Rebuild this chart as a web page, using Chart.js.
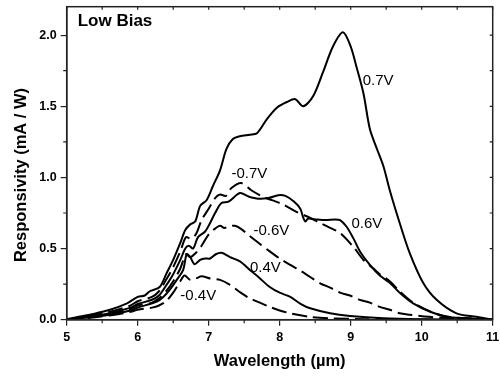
<!DOCTYPE html>
<html>
<head>
<meta charset="utf-8">
<script src="https://cdn.jsdelivr.net/npm/chart.js@4/dist/chart.umd.min.js"></script>
<style>html,body{margin:0;padding:0;background:#fff;}canvas{display:block;}</style>
</head>
<body>
<canvas id="c" width="500" height="377"></canvas>
<script>
// ---- data (wavelength in µm, responsivity in mA/W) ----
const wlP07 = [5.0,5.14,5.37,5.61,5.85,6.0,6.1,6.17,6.31,6.41,6.5,6.6,6.67,6.74,6.81,6.88,6.97,7.06,7.16,7.25,7.34,7.44,7.58,7.68,7.82,7.96,8.10,8.22,8.33,8.47,8.61,8.75,8.89,9.0,9.08,9.18,9.27,9.37,9.46,9.55,9.69,9.83,10.02,10.21,10.49,10.77,11.0];
const rP07  = [0.003,0.017,0.04,0.07,0.115,0.16,0.17,0.2,0.23,0.33,0.42,0.54,0.63,0.67,0.69,0.8,0.84,0.94,1.05,1.2,1.27,1.29,1.30,1.31,1.41,1.49,1.53,1.55,1.50,1.57,1.74,1.92,2.02,1.92,1.78,1.59,1.34,1.20,1.08,0.91,0.68,0.47,0.26,0.14,0.045,0.02,0.0];

const wlM07 = [5.0,5.3,5.6,5.9,6.0,6.2,6.3,6.4,6.5,6.6,6.68,6.75,6.82,6.9,7.0,7.09,7.16,7.24,7.32,7.46,7.6,7.74,7.89,8.05,8.23,8.43,8.57,8.71,8.85,9.04,9.18,9.32,9.41,9.55,9.69,9.88,10.12,10.35,10.63,11.0];
const rM07  = [0.0,0.025,0.055,0.1,0.13,0.16,0.2,0.28,0.37,0.48,0.58,0.57,0.6,0.7,0.78,0.855,0.88,0.87,0.925,0.96,0.91,0.87,0.84,0.81,0.76,0.715,0.68,0.645,0.61,0.51,0.42,0.36,0.32,0.27,0.2,0.12,0.058,0.022,0.01,0.0];

const wlP06 = [5.0,5.3,5.6,5.9,6.0,6.2,6.3,6.4,6.5,6.6,6.67,6.72,6.78,6.85,6.95,7.02,7.09,7.18,7.28,7.44,7.56,7.7,7.84,7.98,8.08,8.2,8.29,8.33,8.36,8.4,8.5,8.65,8.78,8.85,8.94,9.04,9.13,9.27,9.41,9.55,9.69,9.88,10.12,10.35,10.63,11.0];
const rP06  = [0.0,0.02,0.045,0.085,0.11,0.14,0.17,0.24,0.32,0.42,0.5,0.52,0.5,0.58,0.62,0.68,0.75,0.82,0.83,0.89,0.866,0.85,0.855,0.875,0.87,0.83,0.78,0.72,0.69,0.71,0.705,0.70,0.705,0.70,0.655,0.57,0.48,0.385,0.31,0.26,0.19,0.115,0.056,0.021,0.01,0.0];

const wlM06 = [5.0,5.3,5.6,5.9,6.0,6.2,6.3,6.4,6.5,6.6,6.68,6.74,6.82,6.9,7.0,7.09,7.16,7.22,7.28,7.37,7.46,7.55,7.65,7.86,8.0,8.15,8.29,8.43,8.57,8.71,8.85,8.99,9.13,9.27,9.41,9.55,9.69,9.83,10.1,10.4,11.0];
const rM06  = [0.0,0.02,0.04,0.075,0.1,0.12,0.15,0.2,0.27,0.36,0.46,0.44,0.47,0.52,0.6,0.64,0.66,0.645,0.655,0.66,0.637,0.6,0.56,0.48,0.43,0.385,0.345,0.30,0.256,0.225,0.19,0.17,0.139,0.12,0.09,0.07,0.045,0.035,0.02,0.012,0.0];

const wlP04 = [5.0,5.3,5.6,5.9,6.0,6.27,6.36,6.45,6.55,6.64,6.69,6.74,6.8,6.88,6.95,7.02,7.1,7.18,7.3,7.44,7.58,7.7,7.86,8.0,8.15,8.3,8.43,8.71,8.99,9.46,10.0,11.0];
const rP04  = [0.0,0.015,0.035,0.065,0.085,0.127,0.16,0.21,0.28,0.35,0.46,0.44,0.39,0.42,0.43,0.43,0.46,0.47,0.44,0.41,0.35,0.30,0.23,0.19,0.16,0.11,0.08,0.045,0.026,0.01,0.004,0.0];

const wlM04 = [5.0,5.3,5.6,5.9,6.0,6.2,6.3,6.4,6.5,6.6,6.66,6.74,6.82,6.9,7.02,7.16,7.3,7.45,7.58,7.72,7.86,8.0,8.15,8.43,8.71,9.2,10.0,11.0];
const rM04  = [0.0,0.012,0.03,0.055,0.07,0.085,0.1,0.13,0.19,0.27,0.31,0.28,0.29,0.305,0.29,0.28,0.245,0.19,0.15,0.12,0.09,0.065,0.045,0.02,0.01,0.004,0.001,0.0];

const xTickValues = [5,6,7,8,9,10,11];
const xMinorValues = [5.5,6.5,7.5,8.5,9.5,10.5];
const yTickValues = [0,0.5,1.0,1.5,2.0];
const yMinorValues = [0.25,0.75,1.25,1.75];

const curveLabels = ['0.7V','-0.7V','0.6V','-0.6V','0.4V','-0.4V'];
const curveLabelX = [9.17,7.32,9.01,7.63,7.58,6.60];
const curveLabelY = [1.653,0.996,0.644,0.596,0.338,0.139];

const panelTitle = 'Low Bias';
const xTitle = 'Wavelength (\u00b5m)';
const yTitle = 'Responsivity (mA / W)';

// ---- chart ----
const pts = (xs, ys) => xs.map((x, i) => ({x: x, y: ys[i]}));
const DASH = [15, 6];
function ds(label, xs, ys, dashed) {
  return {label: label, data: pts(xs, ys), borderColor: '#000', borderWidth: 2,
    borderDash: dashed ? DASH : [], pointRadius: 0, tension: 0.3, fill: false};
}
const AX = '#222';

const decor = {
  id: 'decor',
  afterDraw(chart) {
    const ctx = chart.ctx, a = chart.chartArea, x = chart.scales.x, y = chart.scales.y;
    ctx.save();
    ctx.strokeStyle = AX; ctx.lineWidth = 1.5;
    ctx.strokeRect(a.left, a.top, a.right - a.left, a.bottom - a.top);
    ctx.lineWidth = 1.2;
    ctx.beginPath();
    xMinorValues.forEach(v => { const p = x.getPixelForValue(v); ctx.moveTo(p, a.bottom); ctx.lineTo(p, a.bottom + 3.5); });
    xTickValues.concat(xMinorValues).forEach(v => { const p = x.getPixelForValue(v); ctx.moveTo(p, a.top); ctx.lineTo(p, a.top + 3); });
    yMinorValues.forEach(v => { const p = y.getPixelForValue(v); ctx.moveTo(a.left - 3.5, p); ctx.lineTo(a.left, p); });
    yTickValues.concat(yMinorValues).forEach(v => { const p = y.getPixelForValue(v); ctx.moveTo(a.right - 3, p); ctx.lineTo(a.right, p); });
    ctx.stroke();

    ctx.fillStyle = '#000';
    ctx.font = '15px "Liberation Sans", Arial, sans-serif';
    ctx.textAlign = 'left'; ctx.textBaseline = 'alphabetic';
    curveLabels.forEach((t, i) => {
      ctx.fillText(t, x.getPixelForValue(curveLabelX[i]), y.getPixelForValue(curveLabelY[i]));
    });
    ctx.font = 'bold 17px "Liberation Sans", Arial, sans-serif';
    ctx.fillText(panelTitle, a.left + 11, a.top + 19.5);

    ctx.font = 'bold 16.5px "Liberation Sans", Arial, sans-serif';
    ctx.textAlign = 'center'; ctx.textBaseline = 'middle';
    ctx.fillText(xTitle, (a.left + a.right) / 2, 361.5);
    ctx.translate(21, 175);
    ctx.rotate(-Math.PI / 2);
    ctx.fillText(yTitle, 0, 0);
    ctx.restore();
  }
};

new Chart(document.getElementById('c'), {
  type: 'line',
  data: {
    datasets: [
      ds('0.7V', wlP07, rP07, false),
      ds('-0.7V', wlM07, rM07, true),
      ds('0.6V', wlP06, rP06, false),
      ds('-0.6V', wlM06, rM06, true),
      ds('0.4V', wlP04, rP04, false),
      ds('-0.4V', wlM04, rM04, true)
    ]
  },
  options: {
    responsive: false,
    devicePixelRatio: 1,
    animation: false,
    layout: {padding: {top: 6.7, right: 7.3, left: 0, bottom: 0}},
    plugins: {legend: {display: false}, tooltip: {enabled: false}},
    scales: {
      x: {
        type: 'linear', min: 5, max: 11,
        afterBuildTicks: s => { s.ticks = xTickValues.map(v => ({value: v})); },
        afterFit: s => { s.height = 57.3; s.paddingLeft = 0; s.paddingRight = 0; s.paddingTop = 0; s.paddingBottom = 0; },
        grid: {drawOnChartArea: false, drawTicks: true, tickLength: 6, color: AX, lineWidth: 1.2},
        border: {display: true, color: AX, width: 1.5},
        ticks: {color: '#000', padding: 4, maxRotation: 0,
          font: {family: '"Liberation Sans", Arial, sans-serif', size: 12.5, weight: 'bold'},
          callback: v => String(v)}
      },
      y: {
        type: 'linear', min: 0, max: 2.2,
        afterBuildTicks: s => { s.ticks = yTickValues.map(v => ({value: v})); },
        afterFit: s => { s.width = 66.7; s.paddingLeft = 0; s.paddingRight = 0; s.paddingTop = 0; s.paddingBottom = 0; },
        grid: {drawOnChartArea: false, drawTicks: true, tickLength: 6, color: AX, lineWidth: 1.2},
        border: {display: true, color: AX, width: 1.5},
        ticks: {color: '#000', padding: 4,
          font: {family: '"Liberation Sans", Arial, sans-serif', size: 12.5, weight: 'bold'},
          callback: v => Number(v).toFixed(1)}
      }
    }
  },
  plugins: [decor]
});
</script>
</body>
</html>
